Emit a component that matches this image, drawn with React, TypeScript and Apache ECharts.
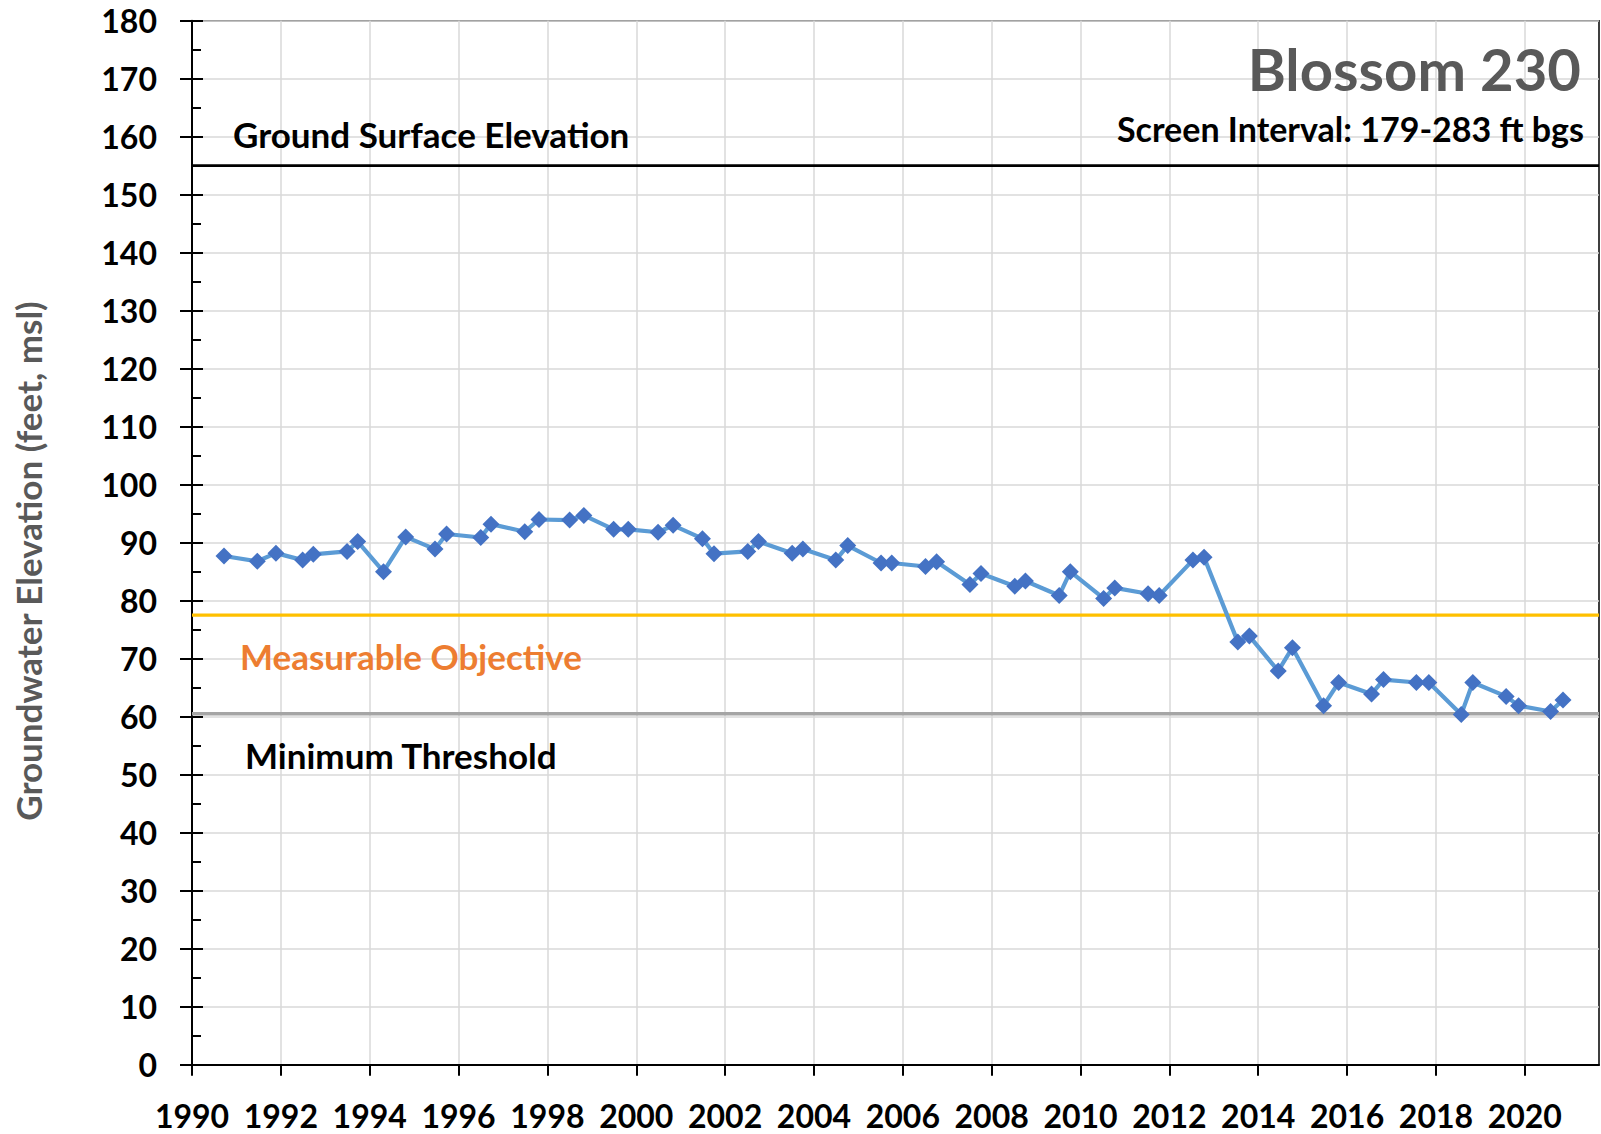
import React, { useEffect, useRef } from "react";
import * as echarts from "echarts";

const sampleDates = [1990.72, 1991.47, 1991.89, 1992.49, 1992.73, 1993.49, 1993.73, 1994.31, 1994.81, 1995.47, 1995.73, 1996.5, 1996.73, 1997.49, 1997.81, 1998.5, 1998.82, 1999.49, 1999.82, 2000.49, 2000.83, 2001.49, 2001.75, 2002.51, 2002.75, 2003.51, 2003.75, 2004.49, 2004.76, 2005.51, 2005.75, 2006.51, 2006.76, 2007.51, 2007.76, 2008.52, 2008.76, 2009.52, 2009.77, 2010.52, 2010.77, 2011.52, 2011.77, 2012.53, 2012.78, 2013.54, 2013.8, 2014.45, 2014.77, 2015.47, 2015.81, 2016.55, 2016.82, 2017.56, 2017.84, 2018.57, 2018.83, 2019.58, 2019.86, 2020.58, 2020.86];
const groundwaterElevation = [87.7, 86.8, 88.2, 87.0, 88.0, 88.5, 90.2, 85.0, 91.0, 88.9, 91.5, 90.9, 93.2, 91.9, 94.0, 93.9, 94.7, 92.3, 92.3, 91.8, 93.0, 90.7, 88.1, 88.5, 90.2, 88.2, 88.9, 87.0, 89.5, 86.5, 86.5, 85.9, 86.7, 82.8, 84.7, 82.5, 83.4, 80.9, 85.0, 80.4, 82.2, 81.2, 80.9, 87.0, 87.5, 72.9, 73.9, 67.9, 71.9, 61.9, 65.9, 63.9, 66.4, 65.9, 65.9, 60.4, 65.9, 63.5, 61.9, 60.9, 62.9];

const xRange = [1990, 2021.67];
const xTickYears = [1990, 1992, 1994, 1996, 1998, 2000, 2002, 2004, 2006, 2008, 2010, 2012, 2014, 2016, 2018, 2020];
const yRange = [0, 180];

const groundSurfaceElevation = 155;
const measurableObjective = 77.5;
const minimumThreshold = 60.5;

const FONT = "Lato, 'Open Sans', sans-serif";

export default function App() {
  const ref = useRef<HTMLDivElement>(null);
  useEffect(() => {
    document.body.style.margin = "0";
    const chart = echarts.init(ref.current!, null, { renderer: "svg" });
    const hLine = (v: number) => [[xRange[0], v], [xRange[1], v]];
    chart.setOption({
      animation: false,
      backgroundColor: "#ffffff",
      textStyle: { fontFamily: FONT },
      grid: {
        left: 192,
        right: 2,
        top: 20.7,
        bottom: 69.3,
        show: true,
        borderColor: "#000000",
        borderWidth: 1.5,
        backgroundColor: "transparent",
      },
      xAxis: {
        type: "value",
        min: xRange[0],
        max: xRange[1],
        interval: 2,
        axisLine: { show: true, lineStyle: { color: "#000000", width: 2 } },
        axisTick: {
          show: true,
          length: 11,
          inside: false,
          customValues: xTickYears,
          lineStyle: { color: "#000000", width: 2 },
        },
        axisLabel: {
          customValues: xTickYears,
          margin: 35,
          color: "#000000",
          fontWeight: "bold",
          fontSize: 32,
          fontFamily: FONT,
          formatter: (v: number) => String(v),
        },
        splitLine: { show: true, lineStyle: { color: "#D9D9D9", width: 1.5 } },
      },
      yAxis: [
        {
          type: "value",
          min: yRange[0],
          max: yRange[1],
          interval: 10,
          position: "left",
          axisLine: { show: true, lineStyle: { color: "#000000", width: 2 } },
          axisTick: { show: true, length: 12, inside: false, lineStyle: { color: "#000000", width: 2 } },
          axisLabel: {
            margin: 35,
            color: "#000000",
            fontWeight: "bold",
            fontSize: 32,
            fontFamily: FONT,
          },
          splitLine: { show: true, lineStyle: { color: "#D9D9D9", width: 1.5 } },
        },
        {
          type: "value",
          min: yRange[0],
          max: yRange[1],
          interval: 10,
          position: "left",
          axisLine: { show: false },
          axisTick: { show: true, length: 11, inside: true, lineStyle: { color: "#000000", width: 2 } },
          minorTick: { show: true, splitNumber: 2, length: 9, lineStyle: { color: "#000000", width: 2 } },
          axisLabel: { show: false },
          splitLine: { show: false },
        },
      ],
      series: [
        {
          name: "Ground Surface Elevation",
          type: "line",
          data: hLine(groundSurfaceElevation),
          symbol: "none",
          lineStyle: { color: "#000000", width: 2.7 },
          silent: true,
          z: 3,
        },
        {
          name: "Measurable Objective",
          type: "line",
          data: hLine(measurableObjective),
          symbol: "none",
          lineStyle: { color: "#FFC000", width: 3.2 },
          silent: true,
          z: 3,
        },
        {
          name: "Minimum Threshold",
          type: "line",
          data: hLine(minimumThreshold),
          symbol: "none",
          lineStyle: { color: "#A5A5A5", width: 3.5 },
          silent: true,
          z: 3,
        },
        {
          name: "Groundwater Elevation",
          type: "line",
          data: sampleDates.map((d, i) => [d, groundwaterElevation[i]]),
          symbol: "diamond",
          symbolSize: 17,
          showAllSymbol: true,
          itemStyle: { color: "#4472C4" },
          lineStyle: { color: "#5B9BD5", width: 4.2 },
          z: 5,
        },
      ],
      graphic: [
        {
          type: "text",
          x: 1581,
          y: 68,
          style: {
            text: "Blossom 230",
            align: "right",
            verticalAlign: "middle",
            font: `bold 58px ${FONT}`,
            fill: "#595959",
          },
          z: 10,
        },
        {
          type: "text",
          x: 1584,
          y: 128,
          style: {
            text: "Screen Interval: 179-283 ft bgs",
            align: "right",
            verticalAlign: "middle",
            font: `bold 34px ${FONT}`,
            fill: "#000000",
          },
          z: 10,
        },
        {
          type: "text",
          x: 233,
          y: 134,
          style: {
            text: "Ground Surface Elevation",
            align: "left",
            verticalAlign: "middle",
            font: `bold 35px ${FONT}`,
            fill: "#000000",
          },
          z: 10,
        },
        {
          type: "text",
          x: 240,
          y: 656,
          style: {
            text: "Measurable Objective",
            align: "left",
            verticalAlign: "middle",
            font: `bold 35px ${FONT}`,
            fill: "#ED7D31",
          },
          z: 10,
        },
        {
          type: "text",
          x: 245,
          y: 755,
          style: {
            text: "Minimum Threshold",
            align: "left",
            verticalAlign: "middle",
            font: `bold 35px ${FONT}`,
            fill: "#000000",
          },
          z: 10,
        },
        {
          type: "text",
          x: 28,
          y: 561,
          rotation: Math.PI / 2,
          style: {
            text: "Groundwater Elevation (feet, msl)",
            align: "center",
            verticalAlign: "middle",
            font: `bold 35px ${FONT}`,
            fill: "#595959",
          },
          z: 10,
        },
      ],
    });
    return () => chart.dispose();
  }, []);
  return <div ref={ref} style={{ width: 1601, height: 1134 }} />;
}
